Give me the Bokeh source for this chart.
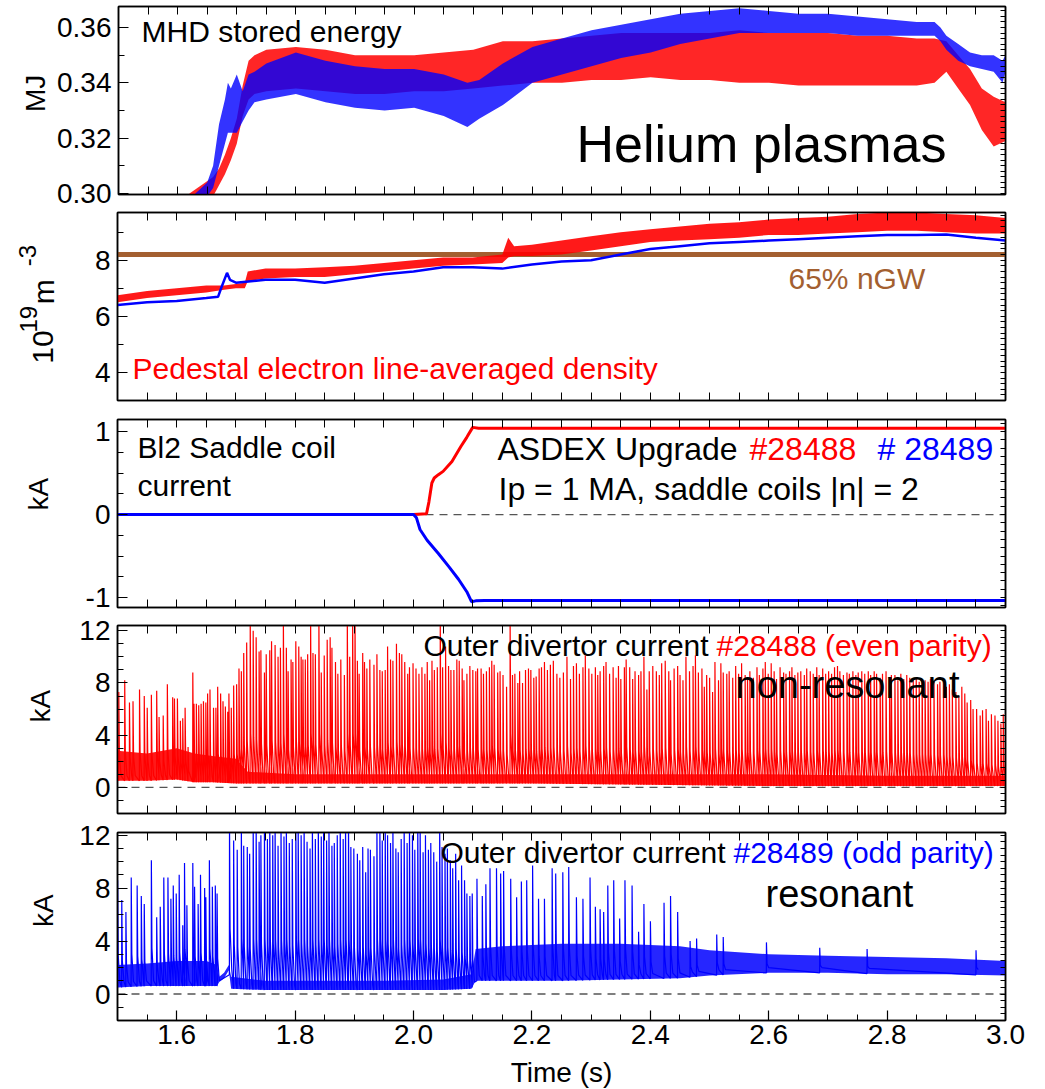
import numpy as np
from bokeh.plotting import figure
from bokeh.layouts import column, row
from bokeh.models import Range1d, LinearAxis, FixedTicker, PrintfTickFormatter, Span, Label
from bokeh.embed import file_html
from bokeh.resources import INLINE

# ---------------------------------------------------------------- data
# Panel 1: MHD stored energy (MJ); noisy traces read as lower / upper envelopes
wmhd_28488_t = [1.50, 1.60, 1.62, 1.64, 1.66, 1.67, 1.68, 1.69, 1.70, 1.71, 1.72, 1.73, 1.75, 1.80,
                1.85, 1.90, 1.95, 2.00, 2.05, 2.10, 2.15, 2.20, 2.25, 2.30, 2.35, 2.40, 2.45, 2.50,
                2.55, 2.60, 2.65, 2.70, 2.75, 2.80, 2.85, 2.88, 2.90, 2.92, 2.94, 2.96, 2.98, 3.00]
wmhd_28488_lo = [0.270, 0.280, 0.294, 0.296, 0.299, 0.303, 0.307, 0.312, 0.318, 0.328, 0.334, 0.336, 0.337, 0.338,
                 0.337, 0.336, 0.336, 0.337, 0.337, 0.338, 0.339, 0.340, 0.340, 0.341, 0.341, 0.342, 0.341, 0.341,
                 0.340, 0.340, 0.339, 0.339, 0.339, 0.339, 0.339, 0.340, 0.344, 0.338, 0.332, 0.323, 0.317, 0.319]
wmhd_28488_hi = [0.285, 0.292, 0.300, 0.303, 0.306, 0.309, 0.314, 0.320, 0.327, 0.339, 0.348, 0.350, 0.352, 0.353,
                 0.352, 0.350, 0.350, 0.350, 0.351, 0.352, 0.355, 0.355, 0.356, 0.357, 0.358, 0.358, 0.358, 0.358,
                 0.359, 0.358, 0.358, 0.358, 0.357, 0.357, 0.356, 0.356, 0.355, 0.350, 0.345, 0.338, 0.335, 0.333]
wmhd_28489_t = [1.50, 1.62, 1.65, 1.66, 1.67, 1.68, 1.685, 1.69, 1.70, 1.71, 1.72, 1.73, 1.75, 1.80, 1.85,
                1.90, 1.95, 2.00, 2.05, 2.09, 2.11, 2.15, 2.20, 2.25, 2.30, 2.35, 2.40, 2.45, 2.50, 2.55,
                2.60, 2.65, 2.70, 2.75, 2.80, 2.85, 2.88, 2.89, 2.90, 2.92, 2.94, 2.96, 2.98, 2.995, 3.00]
wmhd_28489_lo = [0.270, 0.285, 0.299, 0.302, 0.310, 0.318, 0.322, 0.322, 0.322, 0.326, 0.330, 0.333, 0.334, 0.336, 0.333,
                 0.331, 0.330, 0.331, 0.328, 0.324, 0.327, 0.332, 0.340, 0.343, 0.346, 0.349, 0.351, 0.354, 0.356, 0.358,
                 0.358, 0.358, 0.358, 0.357, 0.357, 0.357, 0.357, 0.355, 0.352, 0.348, 0.346, 0.345, 0.344, 0.340, 0.344]
wmhd_28489_hi = [0.285, 0.298, 0.304, 0.310, 0.325, 0.334, 0.340, 0.338, 0.343, 0.337, 0.343, 0.344, 0.347, 0.351, 0.348,
                 0.346, 0.345, 0.345, 0.343, 0.340, 0.341, 0.347, 0.353, 0.356, 0.359, 0.361, 0.363, 0.365, 0.366, 0.367,
                 0.366, 0.365, 0.365, 0.364, 0.363, 0.362, 0.362, 0.360, 0.357, 0.354, 0.351, 0.350, 0.350, 0.348, 0.350]

# Panel 2: pedestal line-averaged density (1e19 m^-3)
ne_28488_t = [1.50, 1.55, 1.60, 1.65, 1.68, 1.70, 1.715, 1.72, 1.75, 1.80, 1.85, 1.90, 1.95, 2.00, 2.05, 2.10,
              2.15, 2.16, 2.17, 2.20, 2.25, 2.30, 2.35, 2.40, 2.45, 2.50, 2.55, 2.60, 2.65, 2.70, 2.75, 2.80,
              2.85, 2.90, 2.95, 3.00]
ne_28488_lo = [6.50, 6.65, 6.75, 6.85, 6.95, 7.00, 7.00, 7.25, 7.35, 7.40, 7.40, 7.50, 7.60, 7.70, 7.80, 7.85,
               7.90, 8.10, 8.15, 8.15, 8.20, 8.35, 8.50, 8.65, 8.70, 8.75, 8.80, 8.90, 8.90, 8.95, 9.00, 9.05,
               9.05, 9.00, 8.95, 8.95]
ne_28488_hi = [6.75, 6.90, 7.00, 7.10, 7.10, 7.15, 7.20, 7.60, 7.70, 7.70, 7.75, 7.80, 7.90, 8.00, 8.10, 8.10,
               8.20, 8.80, 8.50, 8.55, 8.70, 8.85, 9.00, 9.10, 9.20, 9.30, 9.35, 9.45, 9.50, 9.55, 9.65, 9.70,
               9.70, 9.65, 9.60, 9.50]
ne_28489_t = [1.50, 1.55, 1.60, 1.65, 1.67, 1.675, 1.685, 1.69, 1.70, 1.75, 1.80, 1.85, 1.90, 1.95, 2.00, 2.05,
              2.10, 2.15, 2.20, 2.25, 2.30, 2.35, 2.40, 2.45, 2.50, 2.55, 2.60, 2.65, 2.70, 2.75, 2.80, 2.85,
              2.90, 2.95, 3.00]
ne_28489 = [6.40, 6.50, 6.55, 6.65, 6.70, 7.00, 7.55, 7.30, 7.20, 7.30, 7.30, 7.20, 7.35, 7.50, 7.60, 7.75,
            7.75, 7.70, 7.85, 7.95, 8.00, 8.20, 8.40, 8.50, 8.60, 8.65, 8.70, 8.75, 8.80, 8.85, 8.90, 8.90,
            8.92, 8.80, 8.70]
ngw_65pct = 8.2

# Panel 3: Bl2 saddle coil current (kA)
coil_28488_t = [1.50, 2.000, 2.022, 2.026, 2.031, 2.035, 2.042, 2.050, 2.065, 2.080, 2.090, 2.100, 2.110, 3.00]
coil_28488 = [0.0, 0.0, 0.01, 0.15, 0.38, 0.44, 0.48, 0.52, 0.64, 0.82, 0.93, 1.05, 1.04, 1.04]
coil_28489_t = [1.50, 2.000, 2.005, 2.011, 2.023, 2.042, 2.060, 2.076, 2.090, 2.098, 2.105, 2.120, 3.00]
coil_28489 = [0.0, 0.0, -0.04, -0.18, -0.31, -0.47, -0.63, -0.78, -0.93, -1.05, -1.04, -1.035, -1.035]

# Panel 4: outer divertor current #28488 (kA): ELM spikes (time, peak) and inter-ELM band
div_28488_elms = [
    (1.502, 7.3), (1.512, 8.2), (1.520, 6.5), (1.526, 6.6), (1.537, 7.5), (1.545, 7.0), (1.550, 6.1), (1.557, 7.1),
    (1.566, 7.4), (1.570, 5.4), (1.577, 5.5), (1.584, 7.9), (1.593, 6.9), (1.596, 6.8), (1.601, 6.8), (1.606, 5.1),
    (1.610, 5.3), (1.614, 6.1), (1.619, 3.1), (1.627, 8.8), (1.629, 6.4), (1.633, 6.4), (1.637, 6.3), (1.641, 6.4),
    (1.645, 6.6), (1.649, 6.5), (1.652, 7.2), (1.656, 7.5), (1.662, 6.1), (1.666, 6.1), (1.669, 7.7), (1.674, 7.2),
    (1.678, 6.6), (1.682, 6.2), (1.686, 5.8), (1.688, 7.2), (1.692, 6.1), (1.696, 7.8), (1.701, 7.9), (1.705, 9.1),
    (1.709, 8.9), (1.713, 10.3), (1.718, 11.1), (1.724, 13.0), (1.729, 12.0), (1.734, 11.5), (1.739, 10.4),
    (1.742, 10.5), (1.748, 8.8), (1.751, 10.2), (1.757, 10.5), (1.760, 11.2), (1.766, 10.9), (1.771, 10.0),
    (1.775, 10.7), (1.780, 13.0), (1.785, 10.7), (1.788, 8.9), (1.793, 9.8), (1.796, 9.6), (1.801, 11.2),
    (1.806, 10.8), (1.810, 10.0), (1.813, 9.8), (1.817, 9.8), (1.821, 10.2), (1.826, 13.0), (1.830, 10.3),
    (1.834, 10.2), (1.840, 13.0), (1.844, 8.8), (1.849, 10.1), (1.854, 11.3), (1.859, 11.5), (1.862, 10.7),
    (1.868, 9.6), (1.872, 8.7), (1.877, 9.8), (1.883, 8.6), (1.888, 13.0), (1.892, 10.0), (1.897, 13.0),
    (1.901, 13.0), (1.905, 9.7), (1.908, 8.7), (1.914, 10.3), (1.917, 9.6), (1.921, 9.1), (1.926, 9.8),
    (1.933, 9.4), (1.938, 10.2), (1.943, 9.0), (1.947, 8.9), (1.952, 9.0), (1.956, 10.8), (1.961, 9.8),
    (1.965, 9.7), (1.971, 11.0), (1.976, 10.3), (1.980, 10.2), (1.985, 9.6), (1.990, 8.7), (1.993, 9.2),
    (1.999, 9.5), (2.004, 9.1), (2.009, 8.7), (2.014, 9.2), (2.019, 8.7), (2.023, 9.6), (2.027, 8.2),
    (2.031, 9.7), (2.035, 9.0), (2.040, 9.2), (2.045, 13.0), (2.049, 9.2), (2.054, 10.8), (2.059, 9.3),
    (2.063, 9.0), (2.068, 9.0), (2.073, 9.8), (2.077, 9.7), (2.082, 9.1), (2.085, 8.2), (2.090, 8.7),
    (2.095, 9.3), (2.100, 9.0), (2.105, 8.9), (2.108, 9.1), (2.114, 9.1), (2.118, 8.7), (2.123, 8.9),
    (2.128, 9.2), (2.132, 9.7), (2.136, 9.4), (2.142, 8.8), (2.146, 8.9), (2.151, 8.6), (2.157, 7.7),
    (2.163, 13.0), (2.167, 8.6), (2.171, 8.7), (2.176, 8.0), (2.179, 8.9), (2.184, 8.0), (2.189, 9.0),
    (2.194, 9.1), (2.198, 9.0), (2.203, 8.4), (2.207, 8.5), (2.212, 9.1), (2.216, 9.2), (2.221, 9.6),
    (2.226, 9.0), (2.231, 9.4), (2.236, 9.7), (2.242, 8.7), (2.247, 8.4), (2.253, 8.8), (2.259, 10.0),
    (2.265, 8.3), (2.270, 9.3), (2.275, 9.5), (2.280, 8.7), (2.286, 9.2), (2.290, 10.1), (2.296, 9.1),
    (2.301, 8.7), (2.307, 9.2), (2.311, 8.6), (2.315, 8.9), (2.321, 9.3), (2.325, 9.6), (2.331, 8.7),
    (2.337, 9.2), (2.342, 8.4), (2.346, 9.3), (2.350, 8.3), (2.356, 9.2), (2.359, 9.8), (2.365, 9.2),
    (2.370, 8.3), (2.374, 8.9), (2.380, 8.6), (2.384, 8.9), (2.389, 10.0), (2.394, 7.5), (2.398, 8.9),
    (2.404, 9.3), (2.410, 8.9), (2.415, 8.6), (2.419, 9.5), (2.425, 9.7), (2.431, 8.9), (2.434, 8.2),
    (2.440, 9.1), (2.446, 9.3), (2.450, 8.6), (2.455, 8.2), (2.460, 10.0), (2.466, 8.9), (2.472, 9.3),
    (2.476, 10.1), (2.481, 8.8), (2.487, 9.1), (2.491, 7.7), (2.495, 8.6), (2.500, 8.4), (2.505, 7.3),
    (2.509, 9.6), (2.515, 8.2), (2.519, 9.5), (2.523, 8.8), (2.529, 8.7), (2.533, 8.9), (2.539, 8.4),
    (2.544, 9.3), (2.549, 8.7), (2.554, 9.5), (2.560, 8.6), (2.564, 8.4), (2.568, 8.9), (2.574, 8.4),
    (2.580, 9.2), (2.584, 8.6), (2.590, 9.1), (2.594, 9.6), (2.599, 8.7), (2.604, 9.5), (2.609, 8.9),
    (2.613, 8.3), (2.619, 9.2), (2.625, 8.8), (2.629, 8.7), (2.635, 8.9), (2.639, 9.2), (2.644, 8.6),
    (2.649, 8.8), (2.654, 8.9), (2.660, 8.6), (2.664, 9.1), (2.670, 8.9), (2.675, 8.7), (2.681, 9.2),
    (2.685, 8.6), (2.691, 9.1), (2.696, 8.7), (2.701, 8.9), (2.706, 8.7), (2.711, 9.2), (2.716, 9.3),
    (2.720, 8.9), (2.726, 8.6), (2.732, 8.8), (2.736, 8.7), (2.742, 8.9), (2.747, 8.6), (2.751, 8.8),
    (2.757, 8.9), (2.762, 8.7), (2.768, 8.9), (2.772, 8.6), (2.778, 8.9), (2.782, 8.7), (2.788, 8.4),
    (2.792, 8.7), (2.798, 8.9), (2.804, 8.3), (2.807, 8.6), (2.813, 8.6), (2.818, 8.2), (2.823, 8.7),
    (2.828, 8.3), (2.833, 8.6), (2.838, 8.4), (2.844, 8.2), (2.849, 8.4), (2.854, 8.1), (2.859, 8.3),
    (2.864, 8.2), (2.869, 8.1), (2.873, 8.3), (2.879, 8.1), (2.885, 7.9), (2.889, 8.1), (2.895, 8.2),
    (2.900, 7.7), (2.905, 7.9), (2.910, 7.5), (2.916, 7.3), (2.921, 7.0), (2.926, 7.7), (2.931, 7.2),
    (2.935, 6.5), (2.941, 6.7), (2.945, 6.0), (2.951, 6.0), (2.957, 5.5), (2.961, 5.9), (2.967, 6.0),
    (2.971, 5.1), (2.976, 5.6), (2.982, 5.5), (2.987, 5.1), (2.992, 4.9), (2.996, 5.6)]
div_28488_base_t = [1.50, 1.55, 1.60, 1.63, 1.66, 1.70, 1.72, 1.80, 1.90, 2.00, 2.20, 2.40, 2.60, 2.80, 3.00]
div_28488_base_lo = [0.5, 0.5, 0.6, 0.4, 0.4, 0.3, 0.3, 0.3, 0.3, 0.3, 0.3, 0.2, 0.1, 0.1, 0.1]
div_28488_base_hi = [2.8, 2.6, 3.0, 2.6, 2.4, 2.2, 1.2, 1.0, 1.0, 1.0, 1.0, 1.0, 1.0, 0.9, 0.9]

# Panel 5: outer divertor current #28489 (kA)
div_28489_elms = [
    (1.500, 8.6), (1.507, 7.1), (1.514, 6.2), (1.523, 8.8), (1.533, 8.2), (1.540, 7.4), (1.545, 6.8),
    (1.557, 10.1), (1.566, 5.8), (1.572, 6.6), (1.578, 8.8), (1.585, 8.8), (1.590, 7.2), (1.594, 8.2),
    (1.599, 7.6), (1.604, 9.0), (1.610, 5.2), (1.613, 9.9), (1.617, 6.7), (1.627, 9.9), (1.630, 8.1),
    (1.636, 6.8), (1.640, 9.0), (1.647, 8.0), (1.649, 7.3), (1.655, 10.1), (1.660, 8.1), (1.665, 8.2),
    (1.668, 7.6), (1.689, 13.0), (1.696, 11.6), (1.702, 10.9), (1.709, 13.0), (1.713, 11.2), (1.719, 11.1),
    (1.723, 10.6), (1.729, 13.0), (1.734, 13.0), (1.739, 11.5), (1.742, 12.0), (1.748, 13.0), (1.753, 11.7),
    (1.757, 13.0), (1.762, 12.0), (1.766, 13.0), (1.771, 11.2), (1.776, 13.0), (1.781, 11.9), (1.785, 13.0),
    (1.790, 11.4), (1.795, 11.7), (1.801, 13.0), (1.805, 13.0), (1.810, 12.0), (1.815, 13.0), (1.820, 11.5),
    (1.825, 11.0), (1.829, 13.0), (1.834, 11.7), (1.839, 13.0), (1.844, 11.9), (1.848, 13.0), (1.853, 11.6),
    (1.857, 13.0), (1.862, 11.2), (1.866, 11.4), (1.871, 12.0), (1.876, 13.0), (1.881, 11.7), (1.885, 13.0),
    (1.890, 13.0), (1.894, 11.1), (1.899, 11.0), (1.905, 10.6), (1.909, 10.1), (1.914, 11.1), (1.919, 9.2),
    (1.923, 11.0), (1.927, 10.9), (1.933, 10.4), (1.938, 13.0), (1.943, 13.0), (1.947, 11.6), (1.952, 13.0),
    (1.956, 12.0), (1.961, 11.4), (1.965, 13.0), (1.970, 11.0), (1.974, 10.7), (1.979, 11.7), (1.984, 13.0),
    (1.989, 11.4), (1.993, 13.0), (1.998, 12.0), (2.002, 10.9), (2.007, 13.0), (2.011, 13.0), (2.016, 10.7),
    (2.020, 12.0), (2.025, 10.9), (2.029, 11.4), (2.034, 10.7), (2.039, 10.0), (2.044, 13.0), (2.048, 11.1),
    (2.053, 10.6), (2.057, 11.0), (2.062, 10.1), (2.066, 9.5), (2.071, 10.6), (2.076, 8.6), (2.081, 9.7),
    (2.086, 8.6), (2.090, 7.6), (2.095, 7.4), (2.099, 7.6), (2.107, 8.7), (2.116, 7.4), (2.122, 8.3),
    (2.129, 9.5), (2.140, 9.5), (2.147, 9.1), (2.152, 9.3), (2.164, 8.7), (2.174, 7.3), (2.182, 8.5),
    (2.191, 8.6), (2.201, 9.7), (2.211, 7.2), (2.221, 7.2), (2.234, 9.5), (2.240, 9.1), (2.252, 9.2),
    (2.262, 9.6), (2.275, 7.3), (2.286, 7.2), (2.298, 8.8), (2.307, 6.6), (2.315, 6.4), (2.321, 6.2),
    (2.328, 8.2), (2.338, 8.6), (2.348, 5.7), (2.357, 8.6), (2.369, 8.2), (2.380, 4.7), (2.389, 6.8),
    (2.400, 5.5), (2.423, 6.9), (2.434, 7.4), (2.446, 6.2), (2.467, 4.0), (2.478, 4.2), (2.512, 4.5),
    (2.523, 4.3), (2.596, 3.9), (2.686, 3.5), (2.766, 3.4), (2.950, 3.3)]
div_28489_base_t = [1.50, 1.55, 1.60, 1.65, 1.668, 1.672, 1.680, 1.688, 1.692, 1.75, 1.85, 1.95, 2.05, 2.098,
                    2.105, 2.15, 2.25, 2.35, 2.45, 2.50, 2.60, 2.70, 2.80, 2.90, 3.00]
div_28489_base_lo = [0.5, 0.6, 0.6, 0.6, 0.6, 0.9, 1.2, 1.8, 0.4, 0.3, 0.3, 0.3, 0.3, 0.4,
                     1.0, 1.0, 1.0, 1.1, 1.2, 1.4, 1.6, 1.6, 1.5, 1.5, 1.4]
div_28489_base_hi = [2.2, 2.3, 2.5, 2.5, 2.2, 1.3, 1.6, 2.2, 1.3, 1.0, 1.0, 1.0, 1.1, 1.5,
                     3.4, 3.6, 3.8, 3.8, 3.6, 3.3, 3.0, 2.9, 2.8, 2.7, 2.5]

x_tick_values = [1.6, 1.8, 2.0, 2.2, 2.4, 2.6, 2.8, 3.0]

# ---------------------------------------------------------------- style
RED, BLUE, BROWN = "#ff0000", "#0000ff", "#a35f30"
FONT = "Liberation Sans"
PAGE_W = 1045
FRAME_X = 117         # page x of every panel's left frame edge
X_MINOR = [round(1.5 + 0.05 * k, 3) for k in range(31)]
BASE_SHIFT = 0.35     # em offset between requested and drawn alphabetic baseline


def style_axis(ax, labels, size="28px", standoff=8, tick=10, minor=5):
    ax.axis_line_color = "black"
    ax.axis_line_width = 1.5
    ax.major_tick_in = tick
    ax.major_tick_out = 0
    ax.minor_tick_in = minor
    ax.minor_tick_out = 0
    ax.major_tick_line_color = "black"
    ax.minor_tick_line_color = "black"
    ax.major_tick_line_width = 1.2
    ax.minor_tick_line_width = 1.0
    ax.major_label_standoff = standoff
    if labels:
        ax.major_label_text_font = FONT
        ax.major_label_text_font_size = size
        ax.major_label_text_color = "black"


def panel(side_w, height, top, bottom, yr, yticks, yminor, yfmt, rminor, last=False):
    p = figure(width=PAGE_W - side_w, height=height, output_backend="svg", toolbar_location=None, tools="",
               x_range=Range1d(1.5, 3.0), y_range=Range1d(*yr),
               min_border_left=FRAME_X - side_w, min_border_right=40,
               min_border_top=top, min_border_bottom=bottom)
    p.grid.visible = False
    p.outline_line_color = "black"
    p.outline_line_width = 1.5
    p.background_fill_color = "white"
    p.border_fill_color = "white"
    xa = p.xaxis[0]
    if last:
        xa.ticker = FixedTicker(ticks=x_tick_values, minor_ticks=X_MINOR)
        xa.formatter = PrintfTickFormatter(format="%.1f")
        style_axis(xa, True, standoff=4, tick=10, minor=6)
    else:
        xa.ticker = FixedTicker(ticks=[], minor_ticks=X_MINOR)
        style_axis(xa, False, standoff=0, minor=8)
    ya = p.yaxis[0]
    ya.ticker = FixedTicker(ticks=yticks, minor_ticks=yminor)
    ya.formatter = PrintfTickFormatter(format=yfmt)
    style_axis(ya, True, standoff=7, tick=10, minor=6)
    ta = LinearAxis(ticker=FixedTicker(ticks=[], minor_ticks=X_MINOR))
    style_axis(ta, False, standoff=0, minor=8)
    p.add_layout(ta, "above")
    ra = LinearAxis(ticker=FixedTicker(ticks=[], minor_ticks=rminor))
    style_axis(ra, False, standoff=0, minor=5)
    p.add_layout(ra, "right")
    return p


def label(p, x, y, text, size=30, color="black", angle=0.0, align="left", units="screen"):
    # x, y: wanted baseline position (y upward); compensate the drawn baseline offset
    if angle == 0.0:
        y = y + BASE_SHIFT * size
    else:
        x = x - BASE_SHIFT * size
    p.add_layout(Label(x=x, y=y, x_units=units, y_units=units, text=text,
                       text_font=FONT, text_font_size=f"{size}px", text_color=color,
                       text_baseline="alphabetic", text_align=align, angle=angle))


def zero_line(p):
    p.add_layout(Span(location=0, dimension="width", line_color="#555555", line_width=1.3,
                      line_dash="8 6", level="underlay"))


def elm_trace(elms, base_t, base_lo):
    t = np.array([e[0] for e in elms])
    pk = np.array([e[1] for e in elms])
    fl = np.interp(t, base_t, base_lo)
    xs = np.column_stack([t, t + 0.0002, t + 0.0012, t + 0.0040]).ravel()
    ys = np.column_stack([fl, pk, fl + 0.3 * (pk - fl), fl + 0.4]).ravel()
    return xs, ys


def blank(width, height):
    f = figure(width=width, height=height, output_backend="svg", toolbar_location=None, tools="",
               x_range=Range1d(0, width), y_range=Range1d(0, height),
               x_axis_location=None, y_axis_location=None,
               min_border_left=0, min_border_right=0, min_border_top=0, min_border_bottom=0)
    f.grid.visible = False
    f.outline_line_color = None
    f.background_fill_color = "white"
    f.border_fill_color = "white"
    return f


ROT = np.pi / 2

# ---------------------------------------------------------------- panel 1  (page y 0..210)
S1, H1 = 54, 210
p1 = panel(S1, H1, 6, 16, (0.29964, 0.3676), [0.30, 0.32, 0.34, 0.36],
           [round(0.30 + 0.01 * k, 3) for k in range(8)], "%.2f",
           [round(0.30 + 0.002 * k, 4) for k in range(35)])
p1.varea(x=wmhd_28488_t, y1=wmhd_28488_lo, y2=wmhd_28488_hi, fill_color=RED, fill_alpha=0.85)
p1.varea(x=wmhd_28489_t, y1=wmhd_28489_lo, y2=wmhd_28489_hi, fill_color=BLUE, fill_alpha=0.8)
label(p1, 23, 153, "MHD stored energy")
label(p1, 458, 32, "Helium plasmas", size=52)
s1 = blank(S1, H1)
label(s1, 45, H1 - 97, "MJ", size=28, angle=ROT, align="center", units="data")

# ---------------------------------------------------------------- panel 2  (page y 210..409)
S2, H2 = 62, 199
p2 = panel(S2, H2, 2, 9, (3.0, 9.7), [4, 6, 8], [3, 4, 5, 6, 7, 8, 9], "%d",
           [round(3.0 + 0.2 * k, 2) for k in range(34)])
p2.add_layout(Span(location=ngw_65pct, dimension="width", line_color=BROWN, line_width=5, level="underlay"))
p2.varea(x=ne_28488_t, y1=ne_28488_lo, y2=ne_28488_hi, fill_color=RED, fill_alpha=0.9)
p2.line(ne_28489_t, ne_28489, line_color=BLUE, line_width=2.5)
label(p2, 671, 112, "65% nGW", color=BROWN)
label(p2, 15, 22, "Pedestal electron line-averaged density", color=RED)
s2 = blank(S2, H2)
label(s2, 53, 409 - 370, "10", size=30, angle=ROT, units="data")
label(s2, 36, 409 - 337, "19", size=24, angle=ROT, units="data")
label(s2, 53, 409 - 307, "m", size=30, angle=ROT, units="data")
label(s2, 35, 409 - 267, "-3", size=24, angle=ROT, units="data")

# ---------------------------------------------------------------- panel 3  (page y 409..613)
S3, H3 = 62, 204
p3 = panel(S3, H3, 10, 6, (-1.12, 1.145), [-1, 0, 1], [-1.0, -0.75, -0.5, -0.25, 0, 0.25, 0.5, 0.75, 1.0], "%d",
           [round(-1.1 + 0.1 * k, 2) for k in range(23)])
zero_line(p3)
p3.line(coil_28488_t, coil_28488, line_color=RED, line_width=3)
p3.line(coil_28489_t, coil_28489, line_color=BLUE, line_width=3)
label(p3, 20, 150, "Bl2 Saddle coil")
label(p3, 20, 112, "current")
label(p3, 380, 147, "ASDEX Upgrade", size=32)
label(p3, 632, 147, "#28488", size=32, color=RED)
label(p3, 760, 147, "# 28489", size=32, color=BLUE)
label(p3, 381, 107, "Ip = 1 MA, saddle coils |n| = 2", size=32)
s3 = blank(S3, H3)
label(s3, 48, 613 - 490, "kA", size=28, angle=ROT, align="center", units="data")

# ---------------------------------------------------------------- panel 4  (page y 613..818)
S4, H4 = 62, 205
p4 = panel(S4, H4, 12, 5, (-2.0, 12.4), [0, 4, 8, 12], list(range(-2, 13)), "%d",
           [round(-2.0 + 0.5 * k, 1) for k in range(29)])
zero_line(p4)
p4.varea(x=div_28488_base_t, y1=div_28488_base_lo, y2=div_28488_base_hi, fill_color=RED, fill_alpha=0.9)
x4, y4 = elm_trace(div_28488_elms, div_28488_base_t, div_28488_base_lo)
p4.line(x4, y4, line_color=RED, line_width=1.2)
label(p4, 306, 158, "Outer divertor current")
label(p4, 599, 158, "#28488 (even parity)", color=RED)
label(p4, 618, 115, "non-resonant", size=38)
s4 = blank(S4, H4)
label(s4, 50, 818 - 701, "kA", size=28, angle=ROT, align="center", units="data")

# ---------------------------------------------------------------- panel 5  (page y 818..1056)
S5, H5 = 62, 238
p5 = panel(S5, H5, 14, 36, (-2.0, 12.2), [0, 4, 8, 12], list(range(-2, 13)), "%d",
           [round(-2.0 + 0.5 * k, 1) for k in range(29)], last=True)
zero_line(p5)
p5.varea(x=div_28489_base_t, y1=div_28489_base_lo, y2=div_28489_base_hi, fill_color=BLUE, fill_alpha=0.85)
x5, y5 = elm_trace(div_28489_elms, div_28489_base_t, div_28489_base_lo)
p5.line(x5, y5, line_color=BLUE, line_width=1.2)
label(p5, 323, 158, "Outer divertor current")
label(p5, 616, 158, "#28489 (odd parity)", color=BLUE)
label(p5, 648, 113, "resonant", size=38)
s5 = blank(S5, H5)
label(s5, 53, 1056 - 917, "kA", size=28, angle=ROT, align="center", units="data")

# ---------------------------------------------------------------- x-axis title strip (page y 1056..1089)
xtitle = blank(PAGE_W, 33)
label(xtitle, FRAME_X + 444, 7, "Time (s)", size=28, align="center", units="data")

layout = column(row(s1, p1, spacing=0), row(s2, p2, spacing=0), row(s3, p3, spacing=0),
                row(s4, p4, spacing=0), row(s5, p5, spacing=0), xtitle, spacing=0)
open("out.html", "w").write(file_html(layout, INLINE))
